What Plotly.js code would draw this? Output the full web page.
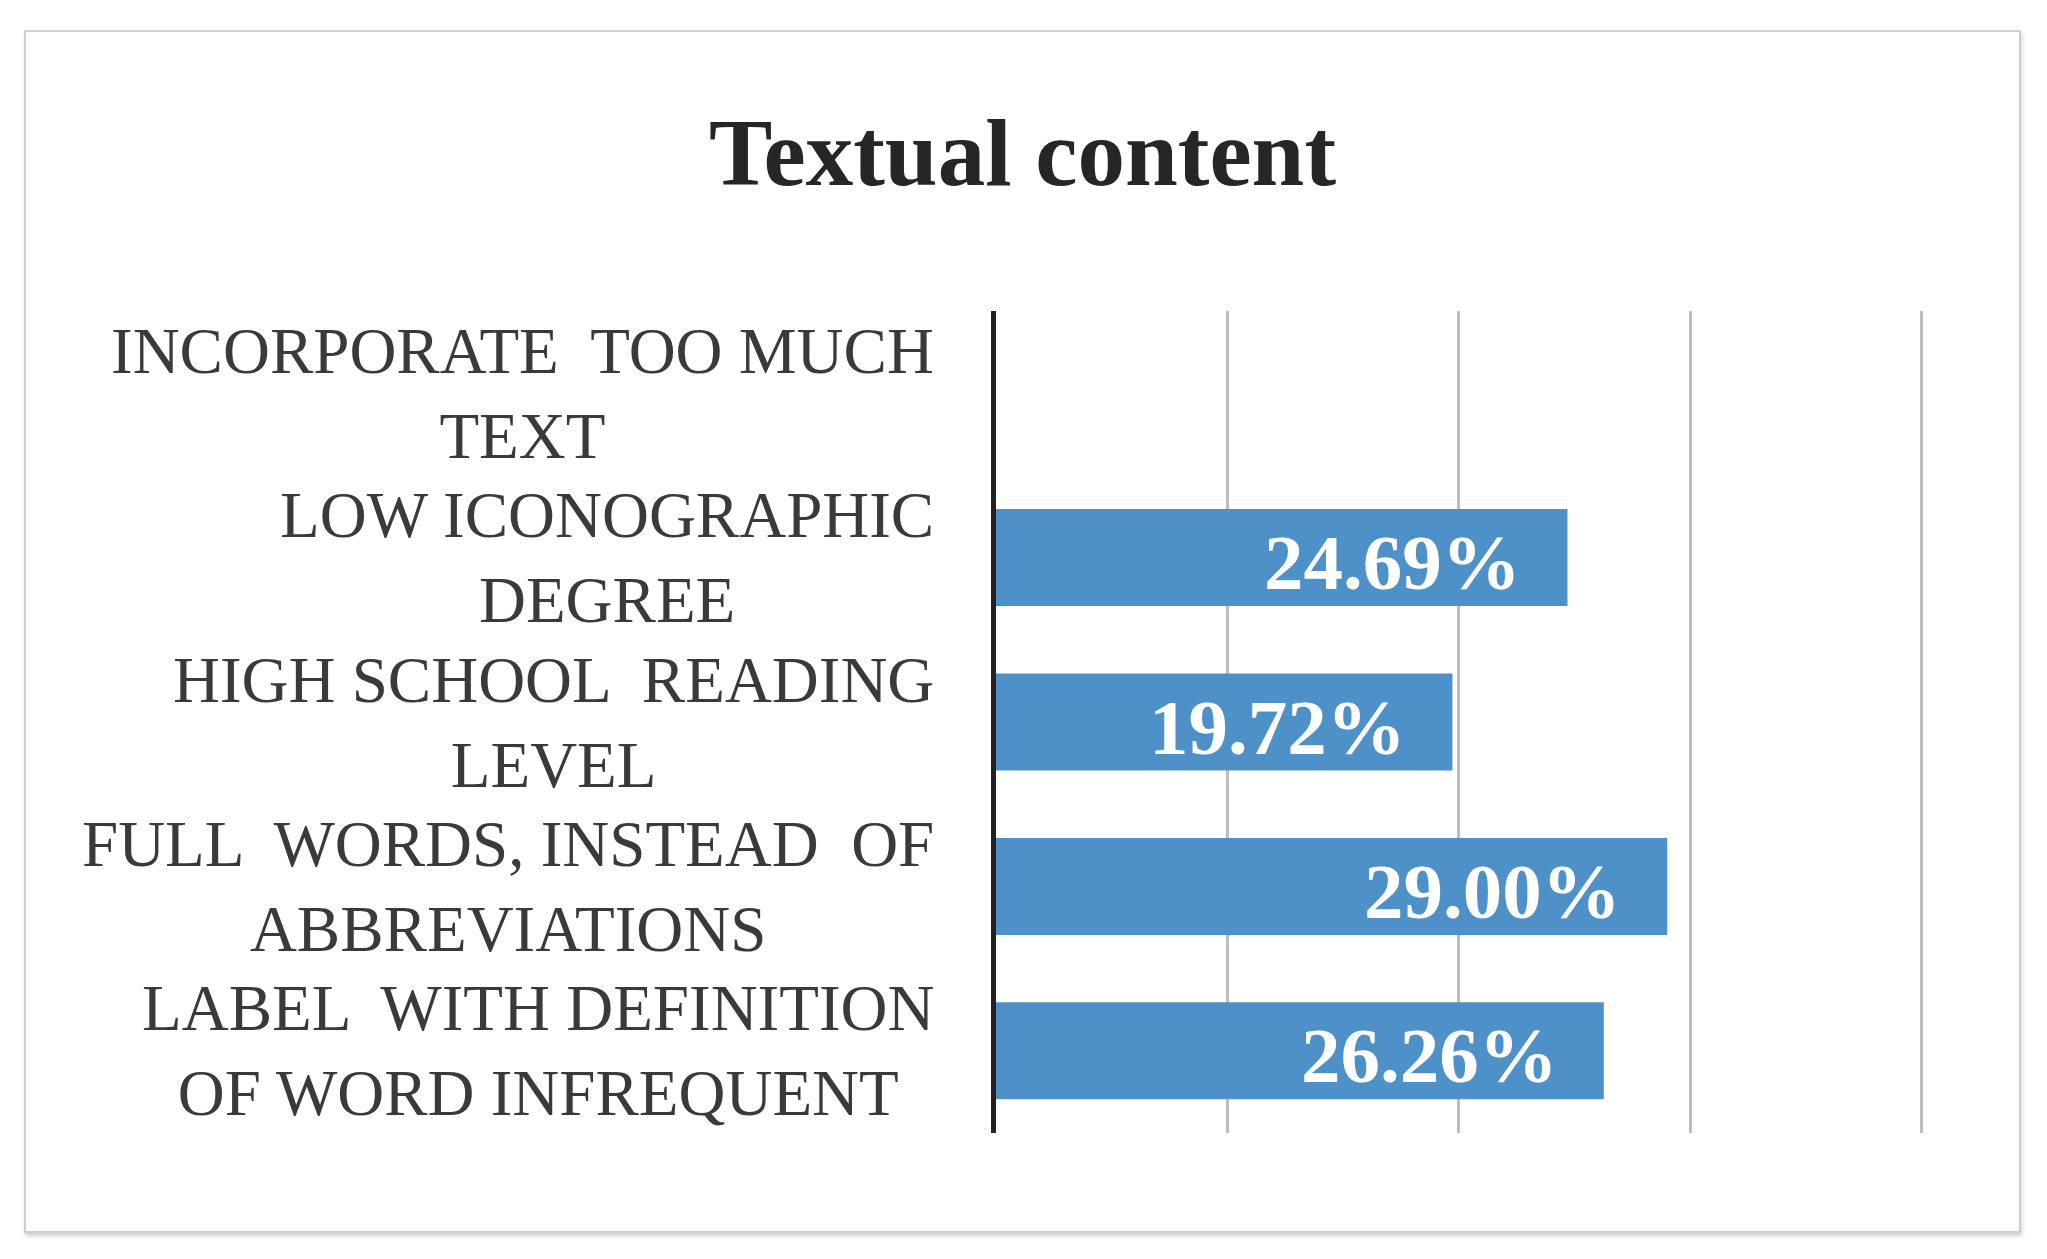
<!DOCTYPE html>
<html>
<head>
<meta charset="utf-8">
<script src="https://cdn.plot.ly/plotly-3.0.1.min.js"></script>
<style>
  html, body { margin: 0; padding: 0; background: #ffffff; }
  #frame {
    position: absolute; left: 24px; top: 30px;
    width: 1993px; height: 1199px;
    border: 2px solid #cdcdcd;
    box-shadow: 1px 3px 4px rgba(0,0,0,0.18);
    background: #ffffff;
  }
</style>
</head>
<body>
<div id="frame"></div>
<script>
// ---- data ----
const chartTitle = "Textual content";
const categories = [
  "INCORPORATE  TOO MUCH<br>TEXT",
  "LOW ICONOGRAPHIC<br>DEGREE",
  "HIGH SCHOOL  READING<br>LEVEL",
  "FULL  WORDS, INSTEAD  OF<br>ABBREVIATIONS",
  "LABEL  WITH DEFINITION<br>OF WORD INFREQUENT"
];
const values = [0, 24.69, 19.72, 29.00, 26.26];
const valueLabels = ["", "24.69%", "19.72%", "29.00%", "26.26%"];
const xTicks = [0, 10, 20, 30, 40];
const xRange = [0, 41];

// ---- styling ----
const serif = "Liberation Serif, Times New Roman, serif";
const barColor = "#4e91c8";

const catAnnotations = categories.map((c) => ({
  text: c, xref: "paper", x: 0, xanchor: "right", xshift: -60,
  yref: "y", y: c, yanchor: "middle", align: "center",
  showarrow: false,
  font: { family: serif, size: 65, color: "#3a3a3a" }
}));

const valAnnotations = [];
values.forEach((v, i) => {
  if (valueLabels[i]) {
    valAnnotations.push({
      text: "<b>" + valueLabels[i] + "</b>",
      xref: "x", x: v, xanchor: "right", xshift: -44,
      yref: "y", y: categories[i], yanchor: "middle", yshift: -5,
      showarrow: false,
      font: { family: serif, size: 79, color: "#ffffff" }
    });
  }
});

const trace = {
  type: "bar", orientation: "h",
  x: values, y: categories,
  marker: { color: barColor },
  hoverinfo: "none"
};

const layout = {
  width: 1993, height: 1199,
  margin: { l: 970, r: 74, t: 279, b: 98, pad: 0 },
  paper_bgcolor: "#ffffff", plot_bgcolor: "#ffffff",
  showlegend: false,
  bargap: 0.41,
  title: {
    text: "<b>" + chartTitle + "</b>",
    xref: "container", x: 0.5, xanchor: "center",
    yref: "container", y: 0.9, yanchor: "middle",
    font: { family: serif, size: 95, color: "#262626" }
  },
  xaxis: {
    range: xRange, tickvals: xTicks, showticklabels: false,
    showgrid: true, gridcolor: "#bdbdbd", gridwidth: 3,
    zeroline: false, showline: false, ticks: ""
  },
  yaxis: {
    type: "category", autorange: "reversed",
    showticklabels: false, showgrid: false, zeroline: false,
    showline: true, linecolor: "#222222", linewidth: 5, ticks: ""
  },
  annotations: catAnnotations.concat(valAnnotations)
};

Plotly.newPlot("frame", [trace], layout, { displayModeBar: false, staticPlot: true });
</script>
</body>
</html>
